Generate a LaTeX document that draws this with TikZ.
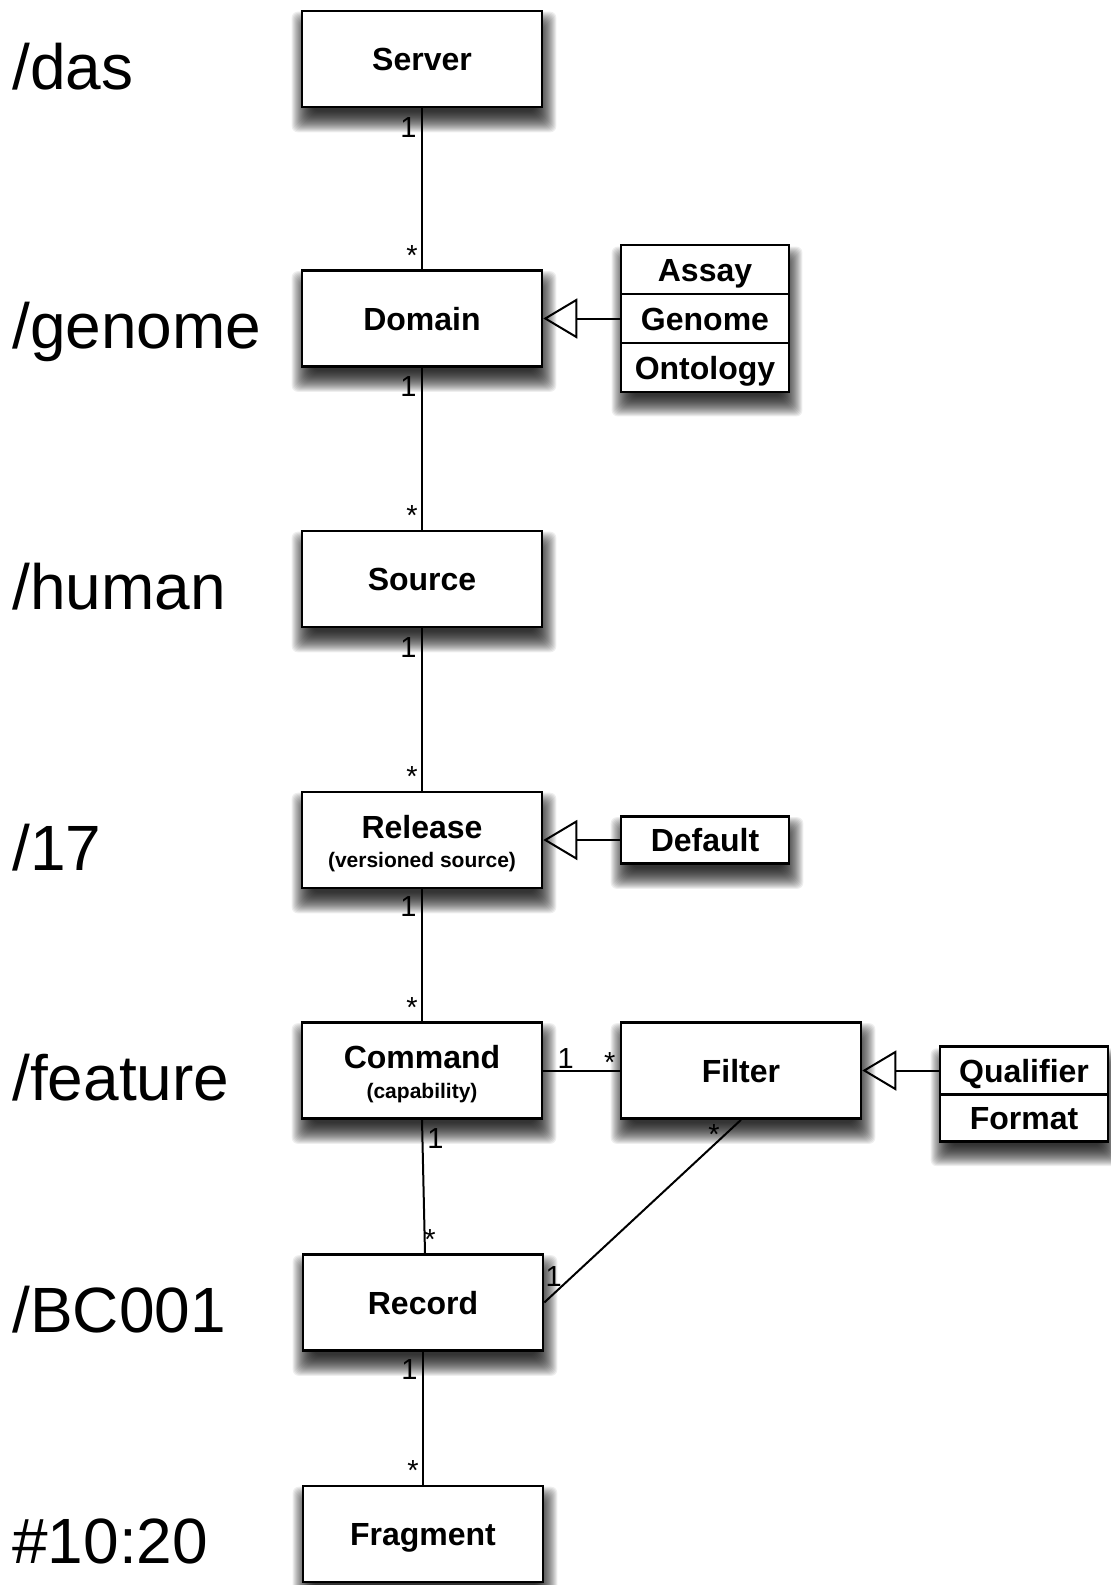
\documentclass[tikz,border=0pt]{standalone}
\usepackage{fontspec}
\setmainfont{Liberation Sans}
\usetikzlibrary{arrows.meta,calc}
\pgfdeclarelayer{background}
\pgfsetlayers{background,main}
\begin{document}
\begin{tikzpicture}[x=0.5pt,y=-0.5pt,
  box/.style={draw, line width=1.3pt, fill=white, minimum width=120pt, minimum height=48pt, inner sep=0pt,
    font=\bfseries\fontsize{16}{19}\selectfont, text height=11.5pt, text depth=0pt},
  title/.style={inner sep=0pt, font=\bfseries\fontsize{16}{19}\selectfont, text height=11.5pt, text depth=0pt},
  sub/.style={inner sep=0pt, font=\bfseries\fontsize{10.5}{12}\selectfont, text height=7.5pt, text depth=0pt},
  grp/.style={inner sep=0pt},
  row/.style={draw, line width=1.3pt, fill=white, minimum width=84pt, inner sep=0pt,
    font=\bfseries\fontsize{16}{19}\selectfont, text height=11.5pt, text depth=0pt},
  lbl/.style={inner sep=0pt, anchor=base west, font=\fontsize{32}{38}\selectfont},
  mult/.style={inner sep=0pt, font=\fontsize{14.5}{17}\selectfont},
  conn/.style={line width=1pt},
  gen/.style={line width=1pt, -{Triangle[open, length=17pt, width=20pt, line width=1pt]}},
  shadowpart/.style={fill=black, fill opacity=0.065, rounded corners=3pt}
]
\useasboundingbox (0,0) rectangle (1110,1585);

% main column
\node[box] (server) at (422,59) {Server};
\node[box] (domain) at (422,318.5) {Domain};
\node[box] (source) at (422,579) {Source};
\node[box] (release) at (422,840) {};
\node[title] (releaseT) at (422,827) {Release};
\node[sub] (releaseS) at (422,860) {(versioned source)};
\node[box] (command) at (422,1070.5) {};
\node[title] (commandT) at (422,1057) {Command};
\node[sub] (commandS) at (422,1091) {(capability)};
\node[box] (filter) at (741,1070.5) {Filter};
\node[box] (record) at (423,1302.5) {Record};
\node[box] (fragment) at (423,1534) {Fragment};

% domain subtypes
\node[grp, minimum width=84pt, minimum height=73.5pt] (domgrp) at (705,318.5) {};
\node[row, minimum height=24.5pt] (assay) at (705,269.5) {Assay};
\node[row, minimum height=24.5pt] (genome) at (705,318.5) {Genome};
\node[row, minimum height=24.5pt] (ontology) at (705,367.5) {Ontology};

% release subtype
\node[row, minimum height=23.5pt] (default) at (705,840) {Default};

% filter subtypes
\node[grp, minimum width=84pt, minimum height=47.5pt] (qfgrp) at (1024,1094.25) {};
\node[row, minimum width=84pt, minimum height=23.75pt] (qualifier) at (1024,1070.5) {Qualifier};
\node[row, minimum width=84pt, minimum height=23.75pt] (format) at (1024,1118) {Format};

% shadows behind boxes
\begin{pgfonlayer}{background}
\fill[white] (0,0) rectangle (1110,1585);
\foreach \n in {server,domain,source,release,command,filter,record,fragment,domgrp,default,qfgrp}{
  \foreach \r in {11,10,...,-10}{
    \fill[shadowpart] ($(\n.north west)+(2-\r,13-\r)$) rectangle ($(\n.south east)+(2+\r,13+\r)$);
  }
}
\end{pgfonlayer}

% left path labels
\node[lbl] (lDas) at (12,89) {/das};
\node[lbl] (lGenome) at (12,348.5) {/genome};
\node[lbl] (lHuman) at (12,609) {/human};
\node[lbl] (lSeventeen) at (12,870) {/17};
\node[lbl] (lFeature) at (12,1100.5) {/feature};
\node[lbl] (lRecord) at (12,1332.5) {/BC001};
\node[lbl] (lFrag) at (12,1563) {\#10:20};

% associations
\draw[conn] (server.south) -- (domain.north);
\draw[conn] (domain.south) -- (source.north);
\draw[conn] (source.south) -- (release.north);
\draw[conn] (release.south) -- (command.north);
\draw[conn] (command.south) -- ($(record.north)+(2,0)$);
\draw[conn] (record.south) -- (fragment.north);
\draw[conn] (command.east) -- (filter.west);
\draw[conn] (filter.south) -- (record.east);

% generalizations
\draw[gen] (genome.west) -- (domain.east);
\draw[gen] (default.west) -- (release.east);
\draw[gen] (qualifier.west) -- (filter.east);

% multiplicities
\node[mult, anchor=base east] (m1) at ($(server.south)+(-5,29)$) {1};
\node[mult, anchor=base east] (s1) at ($(domain.north)+(-4,-4)$) {*};
\node[mult, anchor=base east] (m2) at ($(domain.south)+(-5,29)$) {1};
\node[mult, anchor=base east] (s2) at ($(source.north)+(-4,-4)$) {*};
\node[mult, anchor=base east] (m3) at ($(source.south)+(-5,29)$) {1};
\node[mult, anchor=base east] (s3) at ($(release.north)+(-4,-4)$) {*};
\node[mult, anchor=base east] (m4) at ($(release.south)+(-5,27)$) {1};
\node[mult, anchor=base east] (s4) at ($(command.north)+(-4,-4)$) {*};
\node[mult, anchor=base west] (m5) at ($(command.south)+(5,29)$) {1};
\node[mult, anchor=base west] (s5) at ($(record.north)+(1,-4)$) {*};
\node[mult, anchor=base east] (m6) at ($(record.south)+(-5,28)$) {1};
\node[mult, anchor=base east] (s6) at ($(fragment.north)+(-4,-4)$) {*};
\node[mult, anchor=base west] (m7) at ($(command.east)+(14,-2.5)$) {1};
\node[mult, anchor=base east] (s7) at ($(filter.west)+(-4,1.5)$) {*};
\node[mult, anchor=base east] (s8) at ($(filter.south)+(-21,24.5)$) {*};
\node[mult, anchor=base west] (m8) at ($(record.east)+(1,-16.5)$) {1};
\end{tikzpicture}
\end{document}
